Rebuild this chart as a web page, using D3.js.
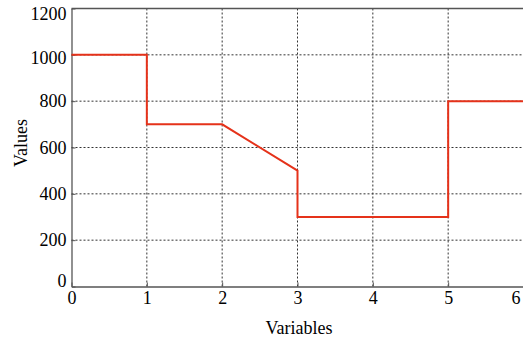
<!DOCTYPE html>
<html>
<head>
<meta charset="utf-8">
<script src="https://cdn.jsdelivr.net/npm/d3@7"></script>
<style>
  body { margin: 0; background: #fff; }
</style>
</head>
<body>
<div id="chart"></div>
<script>
// chart data
const xValues = [0, 1, 1, 2, 3, 3, 5, 5, 6];
const yValues = [1000, 1000, 700, 700, 500, 300, 300, 800, 800];
const xTicks = [0, 1, 2, 3, 4, 5, 6];
const yTicks = [0, 200, 400, 600, 800, 1000, 1200];

const W = 523, H = 337;
const margin = {top: 8.5, right: -0.5, bottom: 50.5, left: 71.5};
const width = W - margin.left - margin.right;
const height = H - margin.top - margin.bottom;
const serif = '"Liberation Serif", "Times New Roman", serif';

const svg = d3.select('#chart').append('svg')
    .attr('width', W).attr('height', H);

const g = svg.append('g')
    .attr('transform', 'translate(' + margin.left + ',' + margin.top + ')');

const x = d3.scaleLinear().domain([0, 6]).range([0, width]);
const y = d3.scaleLinear().domain([0, 1200]).range([height, 0]);

// grid (dotted)
g.append('g').selectAll('line')
    .data(xTicks.slice(1, -1))
    .join('line')
    .attr('x1', d => x(d)).attr('x2', d => x(d))
    .attr('y1', 0).attr('y2', height)
    .attr('stroke', '#333').attr('stroke-width', 1)
    .attr('stroke-dasharray', '2,2');

g.append('g').selectAll('line')
    .data(yTicks.slice(1, -1))
    .join('line')
    .attr('x1', 0).attr('x2', width)
    .attr('y1', d => y(d)).attr('y2', d => y(d))
    .attr('stroke', '#333').attr('stroke-width', 1)
    .attr('stroke-dasharray', '2,2');

// axes
const xAxis = g.append('g')
    .attr('transform', 'translate(0,' + height + ')')
    .call(d3.axisBottom(x).tickValues(xTicks).tickFormat(d3.format('d'))
        .tickSizeInner(-4).tickSizeOuter(0).tickPadding(4));

const yAxis = g.append('g')
    .call(d3.axisLeft(y).tickValues(yTicks).tickFormat(d3.format('d'))
        .tickSizeInner(-4).tickSizeOuter(0).tickPadding(5));

[xAxis, yAxis].forEach(a => {
    a.attr('font-family', serif).attr('font-size', 18);
    a.select('.domain').attr('stroke', '#555').attr('stroke-width', 1.3);
    a.selectAll('.tick line').attr('stroke', '#555');
    a.selectAll('.tick text').attr('fill', '#000');
});
xAxis.selectAll('.tick text').attr('dy', '0.75em');
// keep end labels inside the frame, like the original
xAxis.selectAll('.tick text').filter(d => d === 6).attr('dx', '-0.45em');
yAxis.selectAll('.tick text')
    .attr('dy', d => d === 1200 ? '0.63em' : d === 1000 ? '0.46em' : d === 0 ? '0' : '0.32em');

// top frame line
g.append('line')
    .attr('x1', 0).attr('x2', width)
    .attr('y1', 0).attr('y2', 0)
    .attr('stroke', '#555').attr('stroke-width', 1.3);

// series
const pts = xValues.map((v, i) => [v, yValues[i]]);
g.append('path')
    .datum(pts)
    .attr('fill', 'none')
    .attr('stroke', '#e5321a')
    .attr('stroke-width', 2)
    .attr('d', d3.line().x(d => x(d[0])).y(d => y(d[1])));

// axis labels
svg.append('text')
    .attr('x', 299).attr('y', 334)
    .attr('text-anchor', 'middle')
    .attr('font-family', serif)
    .attr('font-size', 18)
    .text('Variables');

svg.append('text')
    .attr('transform', 'translate(27,143) rotate(-90)')
    .attr('text-anchor', 'middle')
    .attr('font-family', serif)
    .attr('font-size', 18)
    .text('Values');
</script>
</body>
</html>
